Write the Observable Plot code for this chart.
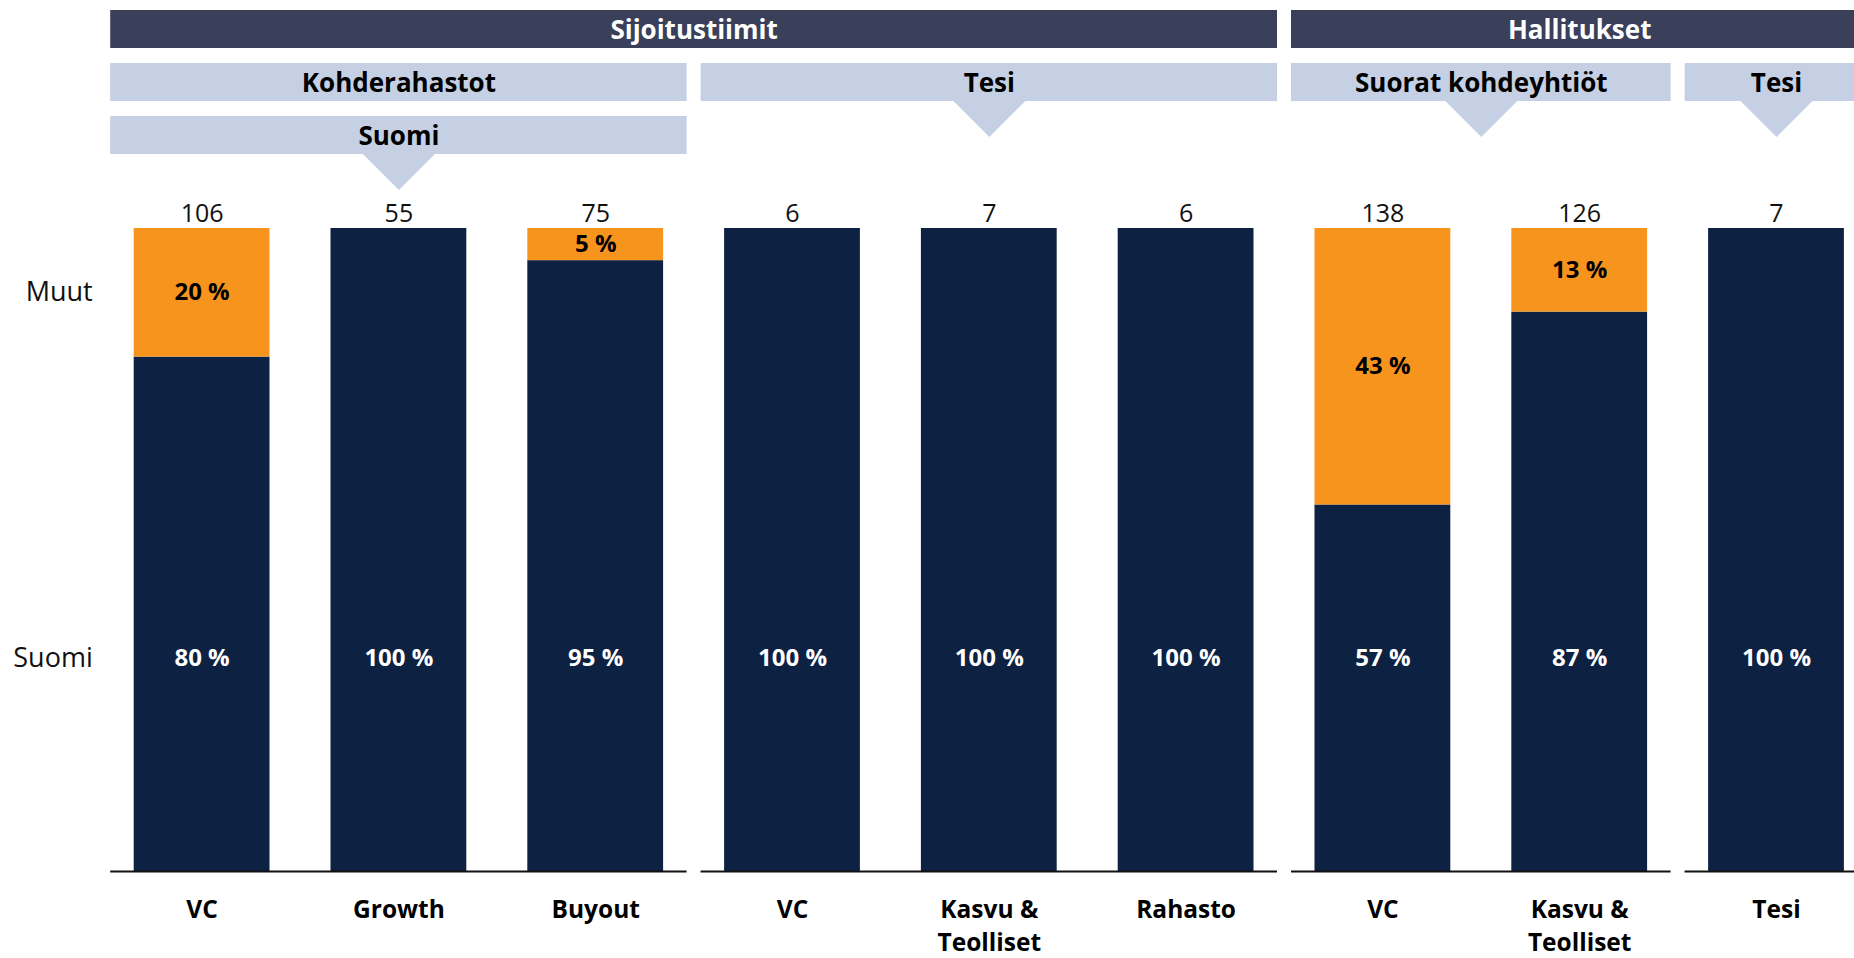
<!DOCTYPE html>
<html><head><meta charset="utf-8">
<script src="https://cdn.jsdelivr.net/npm/d3@7"></script>
<script src="https://cdn.jsdelivr.net/npm/@observablehq/plot@0.6"></script>
<style>
html,body{margin:0;padding:0;background:#fff;overflow:hidden;}
#chart svg{display:block;}
#chart svg + svg{margin-top:-40px;position:relative;}
</style></head><body><div id="chart"></div>
<script>
// ---- data ----
const categories = ["VC", "Growth", "Buyout", "VC", "Kasvu &\nTeolliset", "Rahasto", "VC", "Kasvu &\nTeolliset", "Tesi"];
const totals = [106, 55, 75, 6, 7, 6, 138, 126, 7];
const suomiPct = [80, 100, 95, 100, 100, 100, 57, 87, 100];
const muutPct = [20, 0, 5, 0, 0, 0, 43, 13, 0];
const seriesNames = ["Muut", "Suomi"];
const level1 = [{label: "Sijoitustiimit", from: 0, to: 6}, {label: "Hallitukset", from: 6, to: 9}];
const level2 = [{label: "Kohderahastot", from: 0, to: 3}, {label: "Tesi", from: 3, to: 6}, {label: "Suorat kohdeyhtiöt", from: 6, to: 8}, {label: "Tesi", from: 8, to: 9}];
const level3 = [{label: "Suomi", from: 0, to: 3}];

// ---- styling ----
const NAVY = "#0d2143", ORANGE = "#f7941e", DARKBAND = "#3a3f5a", LIGHTBAND = "#c5d0e4";
const FONT = "'Open Sans', 'Noto Sans', sans-serif";
const W = 1854;
const XRANGE = [103.2, 1874.4];
const rowLabelY = {Muut: 0.9, Suomi: 0.331};

// ---- header ----
const headers = [
  ...level1.map(d => ({...d, level: "L1"})),
  ...level2.map(d => ({...d, level: "L2"})),
  ...level3.map(d => ({...d, level: "L3"}))
];
// pointer triangle sits under the lowest header of each column
const pointers = level2.map(d => {
  const below = level3.find(e => e.from === d.from && e.to === d.to);
  return below ? {...below, level: "L3"} : {...d, level: "L2"};
});
const downTri = {draw(ctx) { ctx.moveTo(-36, 0); ctx.lineTo(36, 0); ctx.lineTo(0, 36); ctx.closePath(); }};

const header = Plot.plot({
  width: W, height: 200,
  style: {fontFamily: FONT, background: "transparent"},
  x: {domain: [0, 9], range: XRANGE, axis: null},
  y: {domain: ["L1", "L2", "L3"], range: [9.5, 153.9], paddingInner: 0.286, paddingOuter: 0, axis: null},
  marks: [
    Plot.barX(headers, {x1: "from", x2: "to", y: "level", fill: d => d.level === "L1" ? DARKBAND : LIGHTBAND, insetLeft: 7, insetRight: 7}),
    Plot.dot(pointers, {x: d => (d.from + d.to) / 2, y: "level", dy: 18.5, symbol: downTri, fill: LIGHTBAND, stroke: "none"}),
    Plot.text(headers, {x: d => (d.from + d.to) / 2, y: "level", dy: 1, text: "label", fill: d => d.level === "L1" ? "#fff" : "#000", fontSize: 26, fontWeight: "bold"})
  ]
});

// ---- main chart ----
const idx = categories.map((c, i) => i);
const segs = [];
idx.forEach(i => {
  const s = suomiPct[i] / 100, m = muutPct[i] / 100;
  segs.push({i, series: "Suomi", lo: 0, hi: s});
  if (m > 0) segs.push({i, series: "Muut", lo: s, hi: s + m});
});
const muutIdx = idx.filter(i => muutPct[i] > 0);

const main = Plot.plot({
  width: W, height: 798,
  marginTop: 68, marginBottom: 87,
  style: {fontFamily: FONT, background: "transparent"},
  x: {domain: [0, 9], range: XRANGE, axis: null},
  y: {domain: [0, 1], axis: null},
  color: {domain: ["Suomi", "Muut"], range: [NAVY, ORANGE]},
  marks: [
    Plot.rect(segs, {x1: d => d.i, x2: d => d.i + 1, y1: "lo", y2: "hi", fill: "series", insetLeft: 30.5, insetRight: 30.5}),
    Plot.ruleY(level2, {y: 0, x1: "from", x2: "to", insetLeft: 7, insetRight: 7, stroke: "#111", strokeWidth: 2}),
    Plot.text(idx, {x: i => i + 0.5, y: 1, text: i => String(totals[i]), dy: -15, fontSize: 25, fill: "#111"}),
    Plot.text(idx, {x: i => i + 0.5, y: rowLabelY.Suomi, text: i => `${suomiPct[i]} %`, fill: "#fff", fontSize: 24, fontWeight: "bold"}),
    Plot.text(muutIdx, {x: i => i + 0.5, y: i => suomiPct[i] / 100 + muutPct[i] / 200, text: i => `${muutPct[i]} %`, fill: "#000", fontSize: 24, fontWeight: "bold"}),
    Plot.text(seriesNames, {x: 0, y: d => rowLabelY[d], text: d => d, textAnchor: "end", dx: -11, fontSize: 27, fill: "#111"}),
    Plot.text(idx, {x: i => i + 0.5, y: 0, text: i => categories[i], lineAnchor: "top", dy: 23, lineHeight: 1.36, fontSize: 24.5, fontWeight: "bold", fill: "#000"})
  ]
});

const root = document.getElementById("chart");
root.append(header, main);
</script>
</body></html>
